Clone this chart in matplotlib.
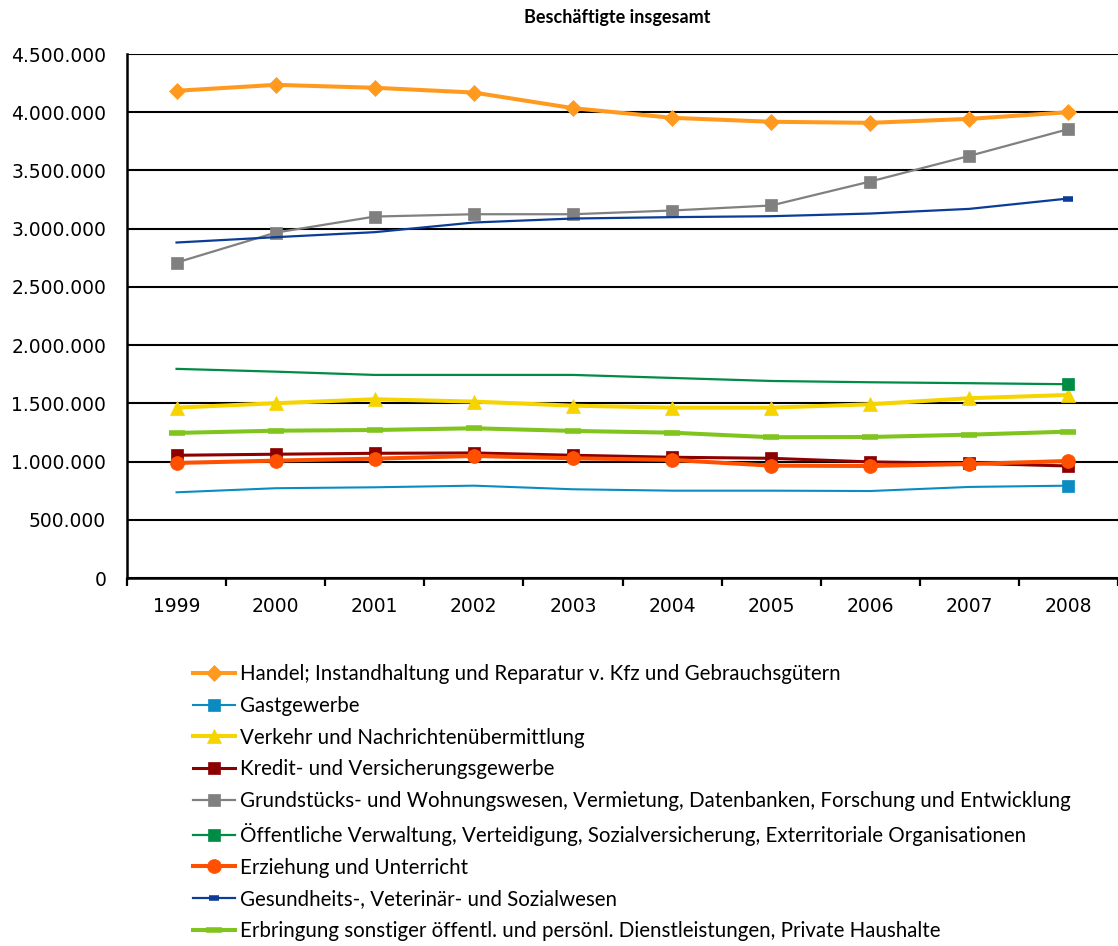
import numpy as np
import matplotlib
matplotlib.use('Agg')
import matplotlib.pyplot as plt
from matplotlib.ticker import FuncFormatter, FixedLocator

years = ['1999', '2000', '2001', '2002', '2003', '2004', '2005', '2006', '2007', '2008']

handel = [4184000, 4235000, 4210000, 4169000, 4035000, 3952000, 3918000, 3909000, 3943000, 4000000]
gast = [736000, 771000, 779000, 793000, 762000, 750000, 750000, 747000, 782000, 793000]
verkehr = [1463000, 1501000, 1535000, 1515000, 1480000, 1463000, 1463000, 1492000, 1544000, 1572000]
kredit = [1054000, 1063000, 1071000, 1074000, 1054000, 1037000, 1028000, 997000, 985000, 962000]
grund = [2709000, 2966000, 3104000, 3124000, 3124000, 3156000, 3199000, 3405000, 3625000, 3855000]
oeff = [1796000, 1772000, 1744000, 1744000, 1744000, 1718000, 1692000, 1681000, 1673000, 1664000]
erzieh = [988000, 1008000, 1025000, 1048000, 1028000, 1014000, 965000, 962000, 979000, 1005000]
gesund = [2881000, 2927000, 2970000, 3053000, 3087000, 3099000, 3107000, 3130000, 3170000, 3259000]
erbring = [1246000, 1265000, 1271000, 1286000, 1263000, 1248000, 1209000, 1211000, 1231000, 1257000]

labels = [
    'Handel; Instandhaltung und Reparatur v. Kfz und Gebrauchsgütern',
    'Gastgewerbe',
    'Verkehr und Nachrichtenübermittlung',
    'Kredit- und Versicherungsgewerbe',
    'Grundstücks- und Wohnungswesen, Vermietung, Datenbanken, Forschung und Entwicklung',
    'Öffentliche Verwaltung, Verteidigung, Sozialversicherung, Exterritoriale Organisationen',
    'Erziehung und Unterricht',
    'Gesundheits-, Veterinär- und Sozialwesen',
    'Erbringung sonstiger öffentl. und persönl. Dienstleistungen, Private Haushalte',
]

fig = plt.figure(figsize=(11.18, 9.46), dpi=100)
ax = fig.add_axes([127/1118, 1-578/946, 1-127/1118, (578-54)/946])

x = np.arange(len(years))
last = [len(years)-1]

# series styles: (data, color, lw, marker, ms, markevery)
series = [
    (handel, '#FF9A1E', 2.9, 'D', 8, None),
    (gast, '#0A8CC2', 1.5, 's', 8, last),
    (verkehr, '#F5D400', 2.9, '^', 9.5, None),
    (kredit, '#8C0000', 2.2, 's', 8, None),
    (grund, '#808080', 1.6, 's', 8.5, None),
    (oeff, '#008C45', 1.6, 's', 8, last),
    (erzieh, '#FF5000', 2.9, 'o', 10, None),
    (gesund, '#0B3D96', 1.6, '_', 7, last),
    (erbring, '#80C41E', 2.9, '_', 12, None),
]

for (d, c, lw, m, ms, me), lab in zip(series, labels):
    mew = 4 if m == '_' else 0.5
    ax.plot(x, d, color=c, lw=lw, marker=m, ms=ms, mew=mew, mec=c, mfc=c,
            markevery=me, label=lab, solid_joinstyle='round')

ax.set_xlim(-0.5, 9.5)
ax.set_ylim(0, 4500000)
ax.set_yticks(np.arange(0, 4500001, 500000))
ax.yaxis.set_major_formatter(FuncFormatter(lambda v, p: f'{int(v):,}'.replace(',', '.')))
ax.set_xticks(x)
ax.set_xticklabels(years)
ax.xaxis.set_minor_locator(FixedLocator(np.arange(-0.5, 10, 1)))
ax.tick_params(axis='x', which='major', length=0, pad=14, labelsize=13.5)
ax.tick_params(axis='x', which='minor', length=6, width=1.6, direction='out')
ax.tick_params(axis='y', length=0, pad=15, labelsize=13.5)
ax.grid(axis='y', color='black', lw=1.5)
ax.set_axisbelow(True)
for s in ['top', 'right']:
    ax.spines[s].set_visible(False)
ax.spines['left'].set_linewidth(1.8)
ax.spines['bottom'].set_linewidth(1.8)

fig.text(617/1118, 1-18/946, 'Beschäftigte insgesamt', ha='center', va='center',
         fontsize=13, fontweight='bold', family=['Lato', 'DejaVu Sans'])

fig.legend(loc='upper left', bbox_to_anchor=(185/1118, 1-656/946), frameon=False,
           prop={'family': ['Lato', 'DejaVu Sans'], 'size': 14.8},
           handlelength=2.03, handletextpad=0.24, labelspacing=0.57, borderaxespad=0)

fig.savefig('out.png', dpi=100)
